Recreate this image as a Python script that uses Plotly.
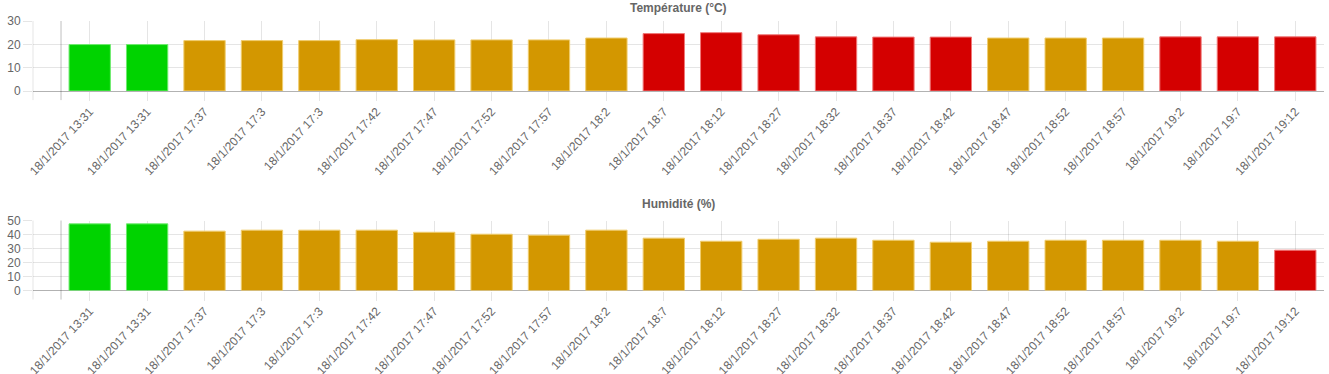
import plotly.graph_objects as go

labels = ["18/1/2017 13:31", "18/1/2017 13:31", "18/1/2017 17:37", "18/1/2017 17:3",
          "18/1/2017 17:3", "18/1/2017 17:42", "18/1/2017 17:47", "18/1/2017 17:52",
          "18/1/2017 17:57", "18/1/2017 18:2", "18/1/2017 18:7", "18/1/2017 18:12",
          "18/1/2017 18:27", "18/1/2017 18:32", "18/1/2017 18:37", "18/1/2017 18:42",
          "18/1/2017 18:47", "18/1/2017 18:52", "18/1/2017 18:57", "18/1/2017 19:2",
          "18/1/2017 19:7", "18/1/2017 19:12"]

temperature = [19.9, 19.9, 21.6, 21.6, 21.6, 22.0, 21.9, 21.9, 21.9, 22.7, 24.6,
               25.0, 24.1, 23.2, 23.1, 23.1, 22.7, 22.7, 22.7, 23.2, 23.2, 23.2]
temp_level = ["ok", "ok", "warn", "warn", "warn", "warn", "warn", "warn", "warn", "warn",
              "alert", "alert", "alert", "alert", "alert", "alert", "warn", "warn", "warn",
              "alert", "alert", "alert"]

humidity = [47.6, 47.6, 42.4, 43.1, 43.1, 43.1, 41.6, 40.2, 39.5, 43.1, 37.4, 35.2,
            36.6, 37.4, 35.9, 34.5, 35.2, 35.9, 35.9, 35.9, 35.2, 28.8]
hum_level = ["ok", "ok"] + ["warn"] * 19 + ["alert"]

temp_ticks = [0, 10, 20, 30]
hum_ticks = [0, 10, 20, 30, 40, 50]

FILL = {"ok": "rgb(0,211,0)", "warn": "rgb(211,151,0)", "alert": "rgb(212,0,0)"}
EDGE = {"ok": "rgba(110,235,110,1)", "warn": "rgba(240,205,110,1)", "alert": "rgba(240,120,120,1)"}

W, H = 1329, 374
FONT = "Liberation Sans, Arial, Helvetica, sans-serif"
GRID = "rgba(0,0,0,0.1)"

x0px, x1px = 33, 1324
xdom = [x0px / W, x1px / W]
top_dom = [1 - 91 / H, 1 - 21 / H]
bot_dom = [1 - 290.5 / H, 1 - 220.5 / H]

fig = go.Figure()
xs = list(range(len(labels)))
fig.add_trace(go.Bar(x=xs, y=temperature, width=0.72,
                     marker=dict(color=[FILL[l] for l in temp_level],
                                 line=dict(color=[EDGE[l] for l in temp_level], width=1)),
                     xaxis="x", yaxis="y", showlegend=False, hoverinfo="y"))
fig.add_trace(go.Bar(x=xs, y=humidity, width=0.72,
                     marker=dict(color=[FILL[l] for l in hum_level],
                                 line=dict(color=[EDGE[l] for l in hum_level], width=1)),
                     xaxis="x2", yaxis="y2", showlegend=False, hoverinfo="y"))

xrange = [-0.988, len(labels) - 0.5]

def xaxis_cfg(anchor):
    return dict(domain=xdom, anchor=anchor, range=xrange, tickmode="array",
                tickvals=xs, ticktext=labels, tickangle=-47, tickson="boundaries",
                showgrid=True, gridcolor=GRID, gridwidth=1, ticks="outside", ticklen=9,
                tickcolor=GRID, tickwidth=1, showline=False, zeroline=False,
                tickfont=dict(family=FONT, size=12, color="#666"), automargin=False,
                ticklabelstandoff=-1, fixedrange=True)

def yaxis_cfg(anchor, dom, ticks):
    return dict(domain=dom, anchor=anchor, range=[0, ticks[-1]], tickmode="array",
                tickvals=ticks, showgrid=True, gridcolor=GRID, gridwidth=1,
                ticks="outside", ticklen=9, tickcolor=GRID, tickwidth=1,
                zeroline=True, zerolinecolor="rgba(0,0,0,0.3)", zerolinewidth=1,
                showline=False, tickfont=dict(family=FONT, size=12, color="#666"),
                automargin=False, fixedrange=True)

fig.update_layout(
    width=W, height=H, margin=dict(l=0, r=0, t=0, b=0),
    paper_bgcolor="white", plot_bgcolor="white",
    xaxis=xaxis_cfg("y"), yaxis=yaxis_cfg("x", top_dom, temp_ticks),
    xaxis2=xaxis_cfg("y2"), yaxis2=yaxis_cfg("x2", bot_dom, hum_ticks),
    bargap=0.28,
    annotations=[
        dict(text="<b>Température (°C)</b>", xref="paper", yref="paper",
             x=(xdom[0] + xdom[1]) / 2, y=1, xanchor="center", yanchor="top",
             borderpad=0, showarrow=False, font=dict(family=FONT, size=12, color="#666")),
        dict(text="<b>Humidité (%)</b>", xref="paper", yref="paper",
             x=(xdom[0] + xdom[1]) / 2, y=1 - 204 / H, xanchor="center", yanchor="middle",
             showarrow=False, font=dict(family=FONT, size=12, color="#666")),
    ],
    shapes=[
        dict(type="line", xref="x domain", yref="y domain", x0=0, x1=0, y0=-0.13, y1=1,
             line=dict(color=GRID, width=1)),
        dict(type="line", xref="x", yref="y domain", x0=-0.5, x1=-0.5, y0=-0.13, y1=1,
             line=dict(color="rgba(0,0,0,0.25)", width=1)),
        dict(type="line", xref="x2 domain", yref="y2 domain", x0=0, x1=0, y0=-0.13, y1=1,
             line=dict(color=GRID, width=1)),
        dict(type="line", xref="x2", yref="y2 domain", x0=-0.5, x1=-0.5, y0=-0.13, y1=1,
             line=dict(color="rgba(0,0,0,0.25)", width=1)),
    ],
)

fig.write_html("out.html", config={"displayModeBar": False})

# remove the browser's default page margin so the figure sits at the top-left corner
with open("out.html", encoding="utf-8") as f:
    html = f.read()
html = html.replace("<head>", "<head><style>html,body{margin:0;padding:0;overflow:hidden}</style>", 1)
with open("out.html", "w", encoding="utf-8") as f:
    f.write(html)
